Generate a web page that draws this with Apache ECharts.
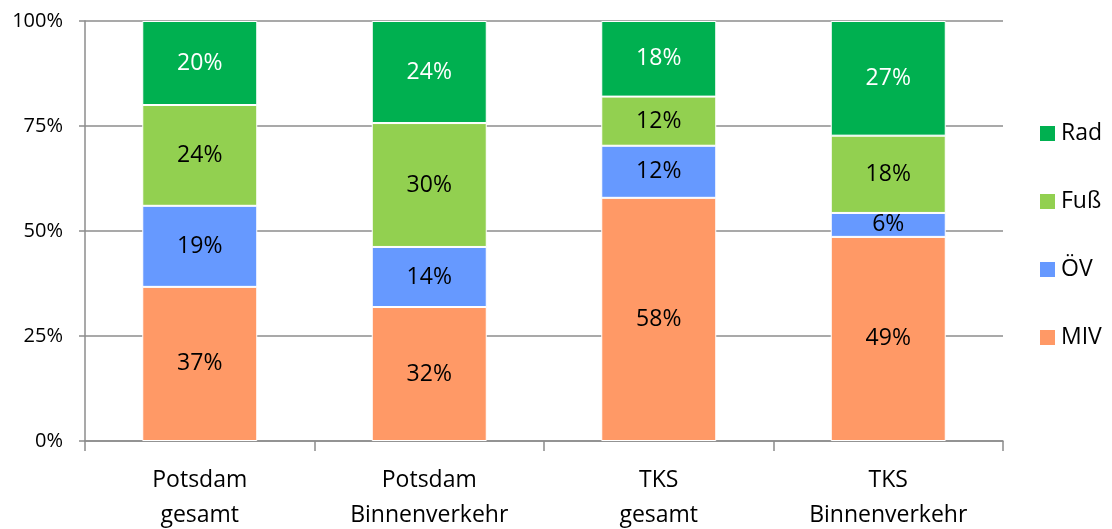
<!DOCTYPE html>
<html>
<head>
<meta charset="UTF-8">
<title>Modal Split</title>
<script src="https://cdn.jsdelivr.net/npm/echarts@6/dist/echarts.min.js"></script>
</head>
<body style="margin:0">
<div id="main" style="width:1112px;height:529px;"></div>
<script type="text/javascript">
var categories = ['Potsdam\ngesamt', 'Potsdam\nBinnenverkehr', 'TKS\ngesamt', 'TKS\nBinnenverkehr'];
var miv = [36.7, 31.9, 57.9, 48.6];
var oev = [19.3, 14.3, 12.4, 5.7];
var fuss = [24.0, 29.5, 11.7, 18.4];
var rad = [20.0, 24.3, 18.0, 27.3];
var yTicks = [0, 25, 50, 75, 100];

var font = '"Open Sans", "Noto Sans", sans-serif';
var myChart = echarts.init(document.getElementById('main'));

function serie(name, data, color, labelColor) {
    return {
        name: name,
        type: 'bar',
        stack: 'all',
        barWidth: 115,
        data: data,
        itemStyle: { color: color, borderColor: '#ffffff', borderWidth: 1 },
        label: {
            show: true,
            position: 'inside',
            color: labelColor,
            fontFamily: font,
            fontSize: 23,
            formatter: function (p) { return Math.round(p.value) + '%'; }
        }
    };
}

myChart.setOption({
    animation: false,
    grid: { left: 85, right: 109, top: 21, bottom: 88, outerBoundsMode: 'none', containLabel: false },
    legend: {
        orient: 'vertical',
        left: 1033,
        top: 117,
        itemGap: 45,
        itemWidth: 17,
        itemHeight: 17,
        icon: 'rect',
        data: ['Rad', 'Fuß', 'ÖV', 'MIV'],
        textStyle: { fontFamily: font, fontSize: 23, color: '#000' }
    },
    xAxis: {
        type: 'category',
        data: categories,
        axisLine: { lineStyle: { color: '#8c8c8c', width: 1.5 } },
        axisTick: { show: true, length: 10, lineStyle: { color: '#8c8c8c', width: 1.5 } },
        axisLabel: { fontFamily: font, fontSize: 23, color: '#000', margin: 22, lineHeight: 35 }
    },
    yAxis: {
        type: 'value',
        min: yTicks[0],
        max: yTicks[yTicks.length - 1],
        interval: 25,
        axisLine: { show: true, lineStyle: { color: '#8c8c8c', width: 1.5 } },
        axisTick: { show: true, length: 6, lineStyle: { color: '#8c8c8c', width: 1.5 } },
        splitLine: { lineStyle: { color: '#8c8c8c', width: 1.5 } },
        axisLabel: { fontFamily: font, fontSize: 20, color: '#000', margin: 22, formatter: '{value}%' }
    },
    series: [
        serie('MIV', miv, '#FF9966', '#000'),
        serie('ÖV', oev, '#6699FF', '#000'),
        serie('Fuß', fuss, '#92D050', '#000'),
        serie('Rad', rad, '#00B050', '#fff')
    ]
});
</script>
</body>
</html>
